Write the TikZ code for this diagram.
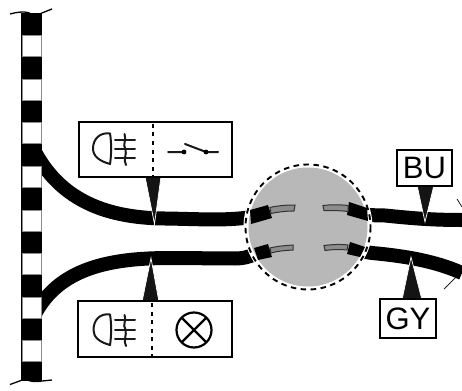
\documentclass[tikz,border=0pt]{standalone}
\usepackage{fontspec}
\setmainfont{Liberation Sans}
\definecolor{gfill}{gray}{0.72}
\definecolor{pinfill}{gray}{0.55}
\tikzset{
  x=1pt,y=-1pt,
  wire/.style={line width=14pt,black},
  labelbox/.style={draw=black,line width=2pt,fill=white,inner sep=0pt,font=\fontsize{31}{31}\selectfont},
  pointer/.style={fill=black!92,draw=white,line width=0.7pt,line join=miter},
  plug/.style={fill=black,draw=none},
  pin/.style={fill=pinfill,draw=black!80,line width=1pt},
  sym/.style={draw=black!90,line width=2pt,line cap=round},
  thin tick/.style={draw=black,line width=0.7pt},
  divider/.style={draw=black,line width=1.3pt,dash pattern=on 4pt off 4.5pt},
}
\begin{document}
\begin{tikzpicture}
\useasboundingbox (0,0) rectangle (462,390);
\coordinate (busA) at (34,150);
\coordinate (busB) at (34,316);
\coordinate (plugA) at (252,217);
\coordinate (plugB) at (256,254);
\coordinate (plugC) at (364,215);
\coordinate (plugD) at (360,251);
\coordinate (endC) at (462,220);
\coordinate (endD) at (462,273);
\draw[wire] (busA) .. controls (58,196) and (100,218) .. (165,218.5) .. controls (200,219) and (225,221) .. (plugA);
\draw[wire] (busB) .. controls (58,268) and (110,258) .. (170,258) -- (235,258.5) .. controls (245,258.5) and (250,256) .. (plugB);
\draw[wire] (plugC) -- (385,215.5) .. controls (410,218) and (430,220) .. (endC);
\draw[wire] (plugD) -- (372,253) .. controls (405,256) and (435,261) .. (endD);
% bar
\fill[black] (21,13) rectangle (42,381);
\foreach \y in {35,79,122,166,210,253,297,340} {
  \fill[white,draw=black!45,line width=0.5pt] (21.8,\y) rectangle (41.2,\y+21.5);
}
\draw[black,line width=1.3pt] (10,14) .. controls (17,12) and (24,11.5) .. (28,12.5) .. controls (32,14) and (33,16) .. (37,15) -- (52,9);
\draw[black,line width=1.3pt] (10,384.5) -- (25,379) .. controls (31,382) and (35,382) .. (42,381) -- (52,380);
% splice
\fill[white] (308,227) circle (64.5);
\fill[gfill] (308,227) circle (59.5);
\draw[black,line width=1.9pt,dash pattern=on 5.5pt off 4.5pt] (308,227) circle (62.5);
\fill[plug] (250,210) -- (268,205) -- (272,218) -- (251,224) -- cycle;
\fill[plug] (349,202) -- (367,208) -- (368,221) -- (347,215) -- cycle;
\fill[plug] (254,248) -- (268,244) -- (272,257) -- (258,260) -- cycle;
\fill[plug] (350,242) -- (365,247) -- (360,257) -- (347,254) -- cycle;
\draw[pin] (270,207.5) .. controls (278,205.5) and (287,205) .. (295,205) -- (294,211) .. controls (286,211) and (278,212) .. (271,213.5) -- cycle;
\draw[pin] (323,205.5) .. controls (331,204.5) and (340,204.5) .. (348,205.5) -- (348,211.5) .. controls (340,210.5) and (331,210.5) .. (324,210.5) -- cycle;
\draw[pin] (270,248) .. controls (278,246) and (286,245.5) .. (293,245) -- (293,250) .. controls (285,250.5) and (278,251) .. (271,253) -- cycle;
\draw[pin] (324,245.5) .. controls (332,244.5) and (340,244) .. (348,245) -- (347,250) .. controls (340,249) and (332,249.5) .. (325,250.5) -- cycle;
% ticks
\coordinate (tickA) at (457,199);
\coordinate (tickB) at (462,207);
\coordinate (tickC) at (444,289);
\coordinate (tickD) at (456,277);
\draw[thin tick] (tickA) -- (tickB);
\draw[thin tick] (tickC) -- (tickD);
% pointers
\draw[pointer] (145,176.5) -- (161,176.5) -- (154.5,224) -- cycle;
\draw[pointer] (142,302) -- (159,302) -- (151,258) -- cycle;
\draw[pointer] (417,185) -- (434,185) -- (425,222) -- cycle;
\draw[pointer] (402,300) -- (422,300) -- (411,257) -- cycle;
% boxes
\node[labelbox,minimum width=153pt,minimum height=55pt] (topbox) at (155.5,149.5) {};
\node[labelbox,minimum width=154pt,minimum height=56pt] (botbox) at (155,329) {};
\node[labelbox,minimum width=55pt,minimum height=36pt] (bu) at (424.5,168) {BU};
\node[labelbox,minimum width=56pt,minimum height=39pt] (gy) at (408,318.5) {GY};
\coordinate (topdivA) at (153,124);
\coordinate (topdivB) at (153,176);
\coordinate (botdivA) at (152,303);
\coordinate (botdivB) at (152,356);
\draw[divider] (topdivA) -- (topdivB);
\draw[divider] (botdivA) -- (botdivB);
% top lamp symbol
\draw[sym,line join=round] (110,133.5) .. controls (100,132) and (93,139) .. (93,148.5) .. controls (93,156) and (99,161) .. (110,164) .. controls (111.5,155) and (111.5,142) .. (110,133.5) -- cycle;
\draw[sym] (115,140) -- (135,140) (115,149) -- (135,149) (115,158) -- (135,158);
\draw[sym] (124.5,134) .. controls (127,140) and (122,145) .. (125.5,149) .. controls (127,154) and (123,160) .. (126,165);
% switch
\draw[sym] (168,152) -- (184,152) (206,152) -- (218,152) (185,144) -- (206,152);
\fill[black] (184,152) circle (2.4) (206,152) circle (2.4);
% bottom lamp symbol
\draw[sym,line join=round] (110,314.5) .. controls (100,313) and (93.5,320) .. (93.5,330) .. controls (93.5,337) and (99,342) .. (110,345) .. controls (111.5,336) and (111.5,323) .. (110,314.5) -- cycle;
\draw[sym] (115,320) -- (135,320) (115,329.5) -- (135,329.5) (115,339) -- (135,339);
\draw[sym] (124.5,315) .. controls (127,320) and (122,325) .. (125.5,329.5) .. controls (127,335) and (123,341) .. (126,346);
% lamp
\draw[black,line width=2.2pt] (194,330) circle (17.5);
\draw[black,line width=2.2pt] (181.6,317.6) -- (206.4,342.4) (181.6,342.4) -- (206.4,317.6);
\end{tikzpicture}
\end{document}
